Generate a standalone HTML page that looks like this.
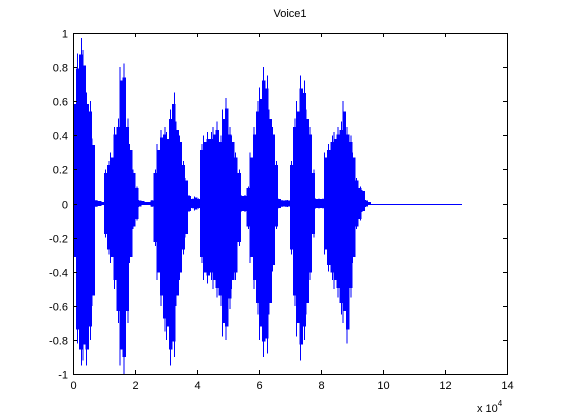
<!DOCTYPE html>
<html><head><meta charset="utf-8"><style>
html,body{margin:0;padding:0;background:#fff;}
svg{display:block;font-family:"Liberation Sans",sans-serif;}
</style></head><body>
<svg id="chart" width="561" height="420">
<rect x="0" y="0" width="561" height="420" fill="#fff"/>
<text x="290" y="17" font-size="11" text-anchor="middle">Voice1</text>
<g id="plot" shape-rendering="crispEdges"></g>
<g id="axes" shape-rendering="crispEdges"></g>
<text x="477" y="412" font-size="11">x 10<tspan font-size="8" dy="-6">4</tspan></text>
</svg>
<script>
const binWidth = 1000;
const upper = [0.65,0.88,0.97,0.9,0.65,0.6,0.38,0.02,0.015,0.01,
0.2,0.25,0.3,0.45,0.5,0.8,0.82,0.5,0.35,0.2,0.1,
0.02,0.015,0.01,0.01,0.02,
0.2,0.35,0.43,0.45,0.42,0.55,0.65,0.48,0.4,0.25,0.15,0.05,
0.03,0.04,0.03,
0.35,0.4,0.42,0.42,0.45,0.48,0.4,0.55,0.62,0.45,0.4,0.3,0.2,
0.05,0.05,
0.1,0.3,0.45,0.6,0.68,0.8,0.75,0.55,0.45,0.25,
0.03,0.02,0.02,0.02,
0.25,0.5,0.6,0.75,0.72,0.55,0.45,0.2,
0.03,0.03,0.03,
0.3,0.35,0.4,0.42,0.45,0.48,0.6,0.45,0.4,0.3,0.15,0.1,
0.08,0.02,0.01];
const lower = [-0.35,-0.82,-0.95,-0.92,-0.95,-0.8,-0.6,-0.02,-0.015,-0.01,
-0.2,-0.3,-0.35,-0.5,-0.7,-0.95,-1.0,-0.7,-0.35,-0.15,-0.1,
-0.02,-0.01,-0.01,-0.01,-0.02,
-0.25,-0.45,-0.6,-0.75,-0.8,-0.95,-0.9,-0.6,-0.45,-0.3,-0.2,-0.05,
-0.03,-0.04,-0.03,
-0.35,-0.45,-0.47,-0.45,-0.5,-0.55,-0.6,-0.78,-0.8,-0.62,-0.5,-0.45,-0.25,
-0.05,-0.05,
-0.15,-0.35,-0.5,-0.65,-0.8,-0.9,-0.88,-0.65,-0.4,-0.15,
-0.03,-0.02,-0.02,-0.02,
-0.3,-0.6,-0.78,-0.92,-0.8,-0.65,-0.45,-0.2,
-0.03,-0.03,-0.03,
-0.3,-0.4,-0.45,-0.5,-0.55,-0.65,-0.7,-0.82,-0.55,-0.35,-0.15,-0.1,
-0.05,-0.02,-0.01];
const signalEnd = 125500;
const xTicks = [0,2,4,6,8,10,12,14];
const yTicks = [-1,-0.8,-0.6,-0.4,-0.2,0,0.2,0.4,0.6,0.8,1];
const yTickLabels = ["-1","-0.8","-0.6","-0.4","-0.2","0","0.2","0.4","0.6","0.8","1"];

const L=73,R=507,T=33,B=374;
const xs = v => L + v/140000*(R-L);
const ys = v => T + (1-v)/2*(B-T);
const NS="http://www.w3.org/2000/svg";
const plot=document.getElementById('plot'), axes=document.getElementById('axes');
function mk(tag,attrs,parent){const e=document.createElementNS(NS,tag);for(const k in attrs)e.setAttribute(k,attrs[k]);parent.appendChild(e);return e;}

const base=mk('rect',{x:xs(0),width:xs(signalEnd)-xs(0),y:Math.round(ys(0)),height:1,fill:'#0000ff'},plot);


for(let i=0;i<upper.length;i++){
  const x0=xs(i*binWidth), x1=xs((i+1)*binWidth);
  const core=0.9;
  const r=mk('rect',{x:x0,y:ys(upper[i]*core),width:x1-x0+0.4,height:Math.max(1,ys(lower[i]*core)-ys(upper[i]*core)),fill:'#0000ff'},plot);
  
  
  const s=mk('rect',{x:x0+((i*7)%3)*0.8,y:ys(upper[i]),width:1,height:Math.max(1,ys(lower[i])-ys(upper[i])),fill:'#0000ff'},plot);
  
  
}
const box=mk('rect',{x:L+0.5,y:T+0.5,width:R-L,height:B-T,fill:'none',stroke:'#000','stroke-width':1},axes);


xTicks.forEach(t=>{
  const x=Math.round(xs(t*10000))+0.5;
  mk('line',{x1:x,x2:x,y1:B,y2:B-4,stroke:'#000'},axes);
  mk('line',{x1:x,x2:x,y1:T,y2:T+4,stroke:'#000'},axes);
  const tx=mk('text',{x:x,y:B+15,'font-size':11,'text-anchor':'middle'},axes);
  tx.textContent=t;
  
  
});
yTicks.forEach((t,i)=>{
  const y=Math.round(ys(t))+0.5;
  mk('line',{x1:L,x2:L+4,y1:y,y2:y,stroke:'#000'},axes);
  mk('line',{x1:R,x2:R-4,y1:y,y2:y,stroke:'#000'},axes);
  const tx=mk('text',{x:L-5,y:y+4,'font-size':11,'text-anchor':'end'},axes);
  tx.textContent=yTickLabels[i];
  
  
});
</script>
</body></html>
